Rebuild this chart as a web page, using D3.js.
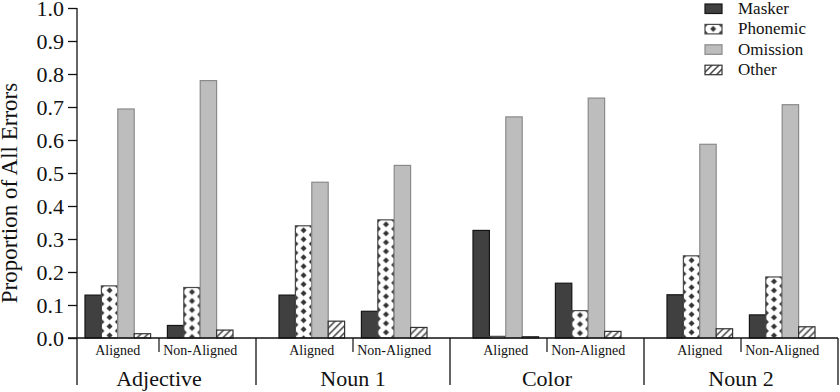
<!DOCTYPE html>
<html>
<head>
<meta charset="utf-8">
<script src="https://cdn.jsdelivr.net/npm/d3@7"></script>
<style>
  body { margin: 0; background: #fff; }
  svg text { font-family: "Times New Roman", Times, "Liberation Serif", "Nimbus Roman", Tinos, serif; fill: #111; }
</style>
</head>
<body>
<svg id="chart" width="840" height="392"></svg>
<script>
var groups = ["Adjective", "Noun 1", "Color", "Noun 2"];
var conditions = ["Aligned", "Non-Aligned"];
var series = ["Masker", "Phonemic", "Omission", "Other"];

// values in order: group x condition
var masker   = [0.130, 0.038, 0.130, 0.081, 0.326, 0.166, 0.131, 0.070];
var phonemic = [0.158, 0.153, 0.340, 0.358, 0.005, 0.083, 0.249, 0.185];
var omission = [0.694, 0.780, 0.472, 0.523, 0.670, 0.727, 0.587, 0.707];
var other    = [0.013, 0.024, 0.051, 0.032, 0.004, 0.020, 0.028, 0.034];

var yTicks = [0, 0.1, 0.2, 0.3, 0.4, 0.5, 0.6, 0.7, 0.8, 0.9, 1.0];

var svg = d3.select("#chart");

var values = { Masker: masker, Phonemic: phonemic, Omission: omission, Other: other };

var styles = {
  Masker:   { fill: "#404040", stroke: "#151515" },
  Phonemic: { fill: "url(#dots)", stroke: "#4a4a4a" },
  Omission: { fill: "#bdbdbd", stroke: "#8a8a8a" },
  Other:    { fill: "url(#hatch)", stroke: "#333" }
};

// patterns
var defs = svg.append("defs");
var dots = defs.append("pattern")
    .attr("id", "dots")
    .attr("patternUnits", "userSpaceOnUse")
    .attr("width", 16.4)
    .attr("height", 9);
dots.append("rect").attr("width", 16.4).attr("height", 9).attr("fill", "#fff");
[[0, 0], [16.4, 0], [0, 9], [16.4, 9], [8.2, 4.5]].forEach(p => {
  dots.append("path")
      .attr("d", `M${p[0]},${p[1] - 3}L${p[0] + 3},${p[1]}L${p[0]},${p[1] + 3}L${p[0] - 3},${p[1]}Z`)
      .attr("fill", "#333");
});

var hatch = defs.append("pattern")
    .attr("id", "hatch")
    .attr("patternUnits", "userSpaceOnUse")
    .attr("width", 7)
    .attr("height", 7);
hatch.append("rect").attr("width", 7).attr("height", 7).attr("fill", "#fff");
hatch.append("path")
    .attr("d", "M-1,1L1,-1M0,7L7,0M6,8L8,6")
    .attr("stroke", "#333")
    .attr("stroke-width", 1.4);

// scales
var x0 = d3.scaleBand().domain(groups).range([62, 838]);
var x1 = d3.scaleBand().domain(conditions).range([0, x0.bandwidth()])
    .paddingInner(0.204).paddingOuter(0.279);
var x2 = d3.scaleBand().domain(series).range([0, x1.bandwidth()]);
var y = d3.scaleLinear().domain([0, 1]).range([338, 8]);

// flat rows
var rows = [];
groups.forEach((g, gi) => {
  conditions.forEach((c, ci) => {
    series.forEach(s => {
      rows.push({ group: g, cond: c, series: s, value: values[s][gi * conditions.length + ci] });
    });
  });
});

// bars
svg.append("g")
  .selectAll("g")
  .data(rows)
  .join("g")
    .attr("transform", d => `translate(${x0(d.group) + x1(d.cond) + x2(d.series)}, ${y(d.value)})`)
  .append("rect")
    .attr("width", x2.bandwidth())
    .attr("height", d => y(0) - y(d.value))
    .attr("fill", d => styles[d.series].fill)
    .attr("stroke", d => styles[d.series].stroke)
    .attr("stroke-width", 1.2);

// y axis
var yAxis = svg.append("g")
    .attr("transform", "translate(77,0)")
    .call(d3.axisLeft(y).tickValues(yTicks).tickSize(9).tickSizeOuter(0).tickFormat(d3.format(".1f")));
yAxis.attr("font-family", null);
yAxis.select(".domain").remove();
yAxis.selectAll(".tick line").attr("stroke", "#111").attr("stroke-width", 1.3);
yAxis.selectAll(".tick text")
    .attr("x", -13)
    .attr("dy", "0.36em")
    .style("font-size", "22px");

svg.append("line")
    .attr("x1", 77).attr("x2", 77)
    .attr("y1", y(1)).attr("y2", 385)
    .attr("stroke", "#111").attr("stroke-width", 1.3);

// baseline
svg.append("line")
    .attr("x1", 68).attr("x2", 838)
    .attr("y1", y(0)).attr("y2", y(0))
    .attr("stroke", "#111").attr("stroke-width", 1.3);

// group separators
svg.append("g")
  .selectAll("line")
  .data(groups.slice(1).map(g => x0(g)).concat([x0.range()[1]]))
  .join("line")
    .attr("x1", d => d).attr("x2", d => d)
    .attr("y1", y(0)).attr("y2", 385)
    .attr("stroke", "#111").attr("stroke-width", 1.3);

// condition separators
svg.append("g")
  .selectAll("line")
  .data(groups)
  .join("line")
    .attr("x1", d => x0(d) + x0.bandwidth() / 2)
    .attr("x2", d => x0(d) + x0.bandwidth() / 2)
    .attr("y1", y(0)).attr("y2", 352)
    .attr("stroke", "#111").attr("stroke-width", 1.2);

// condition labels
svg.append("g")
  .selectAll("text")
  .data(d3.cross(groups, conditions))
  .join("text")
    .attr("x", d => x0(d[0]) + x1(d[1]) + x1.bandwidth() / 2)
    .attr("y", 355)
    .attr("text-anchor", "middle")
    .style("font-size", "14px")
    .text(d => d[1]);

// group labels
svg.append("g")
  .selectAll("text")
  .data(groups)
  .join("text")
    .attr("x", d => x0(d) + x0.bandwidth() / 2)
    .attr("y", 386)
    .attr("text-anchor", "middle")
    .style("font-size", "22px")
    .text(d => d);

// y title
svg.append("text")
    .attr("transform", "translate(17,193) rotate(-90)")
    .attr("text-anchor", "middle")
    .style("font-size", "23px")
    .text("Proportion of All Errors");

// legend
var legend = svg.append("g")
  .selectAll("g")
  .data(series)
  .join("g")
    .attr("transform", (d, i) => `translate(705, ${14 + i * 20.4})`);

legend.append("g")
    .attr("transform", "translate(0,-10)")
  .append("rect")
    .attr("width", 17)
    .attr("height", 9.5)
    .attr("fill", d => styles[d].fill)
    .attr("stroke", d => styles[d].stroke)
    .attr("stroke-width", 1.2);

legend.append("text")
    .attr("x", 33)
    .attr("y", 0)
    .style("font-size", "17px")
    .text(d => d);
</script>
</body>
</html>
